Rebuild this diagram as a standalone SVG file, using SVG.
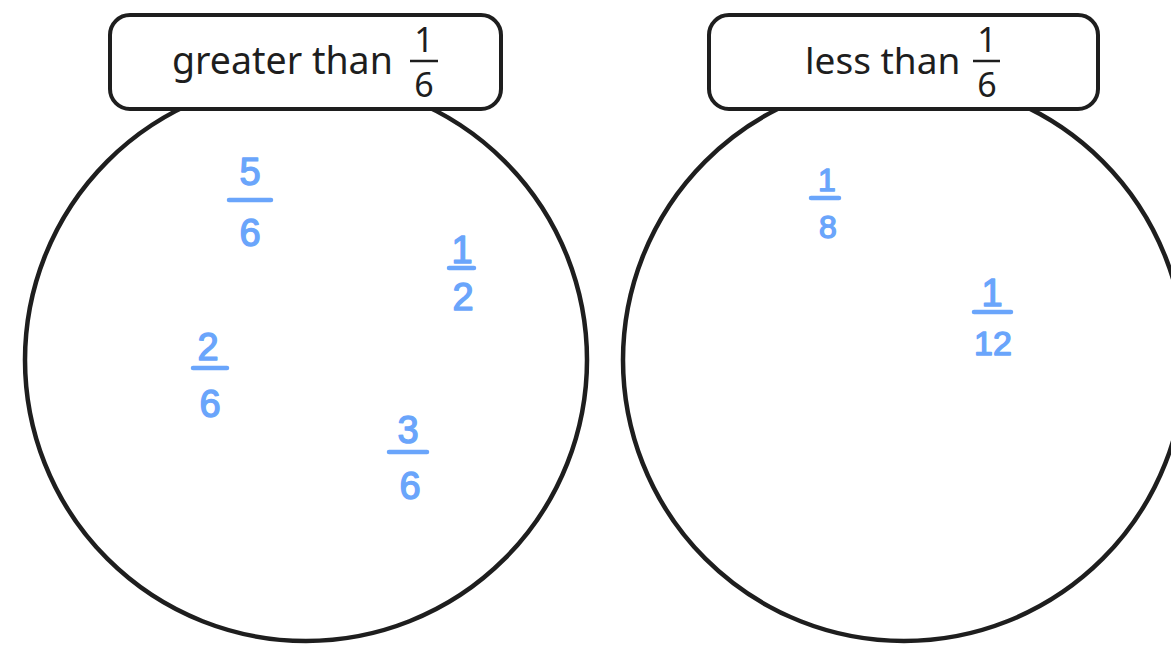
<svg xmlns="http://www.w3.org/2000/svg" width="1171" height="645" viewBox="0 0 1171 645">
<style>
.ring{fill:none;stroke:#1e1e1e;stroke-width:4.5}
.box{fill:#fff;stroke:#1e1e1e;stroke-width:4}
.lbl{font-family:"Noto Sans","Liberation Sans",sans-serif;font-size:37.5px;fill:#1e1e1e}
.num{font-family:"Noto Sans","Liberation Sans",sans-serif;font-size:34px;fill:#1e1e1e;text-anchor:middle}
.bar{stroke:#1e1e1e;stroke-width:2.5}
.hw{font-family:"Liberation Sans",sans-serif;font-size:38px;fill:#6aa5fb;stroke:#6aa5fb;stroke-width:1.4;stroke-linejoin:round;text-anchor:middle}
.hb{stroke:#6aa5fb;stroke-width:4.5;stroke-linecap:round}
</style>
<rect width="1171" height="645" fill="#fff"/>
<g id="circle-greater">
<circle class="ring" cx="306" cy="360" r="281"/>
</g>
<g id="circle-less">
<circle class="ring" cx="904" cy="360" r="281"/>
</g>
<g id="label-greater">
<rect class="box" x="110" y="15" width="391" height="94" rx="20"/>
<text class="lbl" x="172" y="74">greater than</text>
<text class="num" x="424" y="52">1</text>
<line class="bar" x1="410" y1="61" x2="438" y2="61"/>
<text class="num" x="424" y="97">6</text>
</g>
<g id="label-less">
<rect class="box" x="709" y="15" width="389" height="94" rx="20"/>
<text class="lbl" x="805" y="74" style="font-size:37px">less than</text>
<text class="num" x="987" y="52">1</text>
<line class="bar" x1="973" y1="61" x2="1000" y2="61"/>
<text class="num" x="987" y="97">6</text>
</g>
<g id="frac-5-6">
<text class="hw" x="250" y="185">5</text>
<line class="hb" x1="229" y1="200" x2="271" y2="200"/>
<text class="hw" x="250" y="246">6</text>
</g>
<g id="frac-1-2">
<text class="hw" x="462" y="263">1</text>
<line class="hb" x1="449" y1="268" x2="474" y2="268"/>
<text class="hw" x="463" y="310">2</text>
</g>
<g id="frac-2-6">
<text class="hw" x="208" y="360">2</text>
<line class="hb" x1="193" y1="368" x2="227" y2="368"/>
<text class="hw" x="210" y="417">6</text>
</g>
<g id="frac-3-6">
<text class="hw" x="408" y="443">3</text>
<line class="hb" x1="389" y1="452" x2="427" y2="452"/>
<text class="hw" x="410" y="499">6</text>
</g>
<g id="frac-1-8">
<text class="hw" x="827" y="191" style="font-size:32px">1</text>
<line class="hb" x1="811" y1="198" x2="839" y2="198"/>
<text class="hw" x="828" y="238" style="font-size:32px">8</text>
</g>
<g id="frac-1-12">
<text class="hw" x="992" y="306">1</text>
<line class="hb" x1="974" y1="312" x2="1011" y2="312"/>
<text class="hw" x="993" y="355" style="font-size:34px">12</text>
</g>
<g id="connectors"/>
</svg>
